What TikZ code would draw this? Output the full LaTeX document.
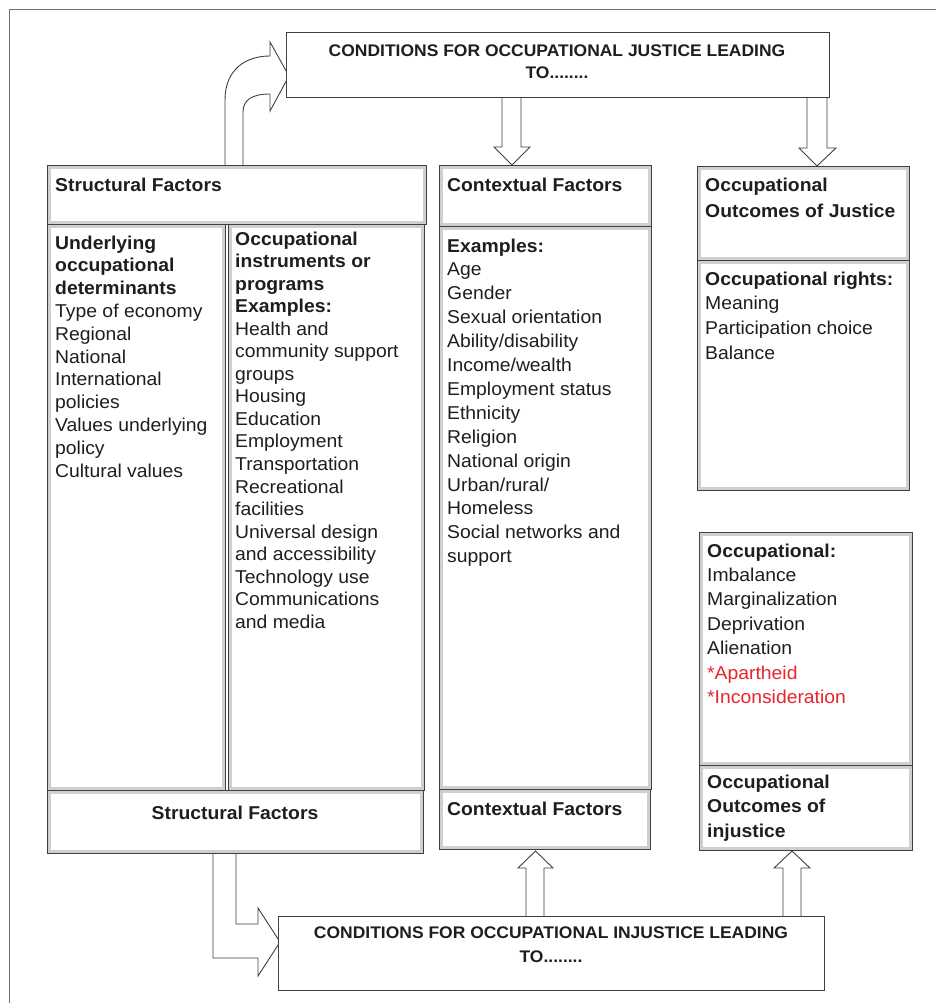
\documentclass[tikz,border=0pt]{standalone}
\usepackage{fontspec}
\setmainfont[FakeStretch=1.04]{Liberation Sans}
\definecolor{jred}{RGB}{232,36,44}
\definecolor{ink}{RGB}{30,30,30}
\newcommand\txtlines[5]{%
  \foreach \t [count=\i] in {#5}{\node[txt] (#1\i) at (#2,{#3+(\i-1)*#4}) {\t};}}
\begin{document}
\begin{tikzpicture}[x=1pt,y=-1pt,
  panel/.style={draw=black!75, line width=1.1pt, fill=white, inner sep=0pt, anchor=north west,
    path picture={\draw[gray!38, line width=3.2pt]
      ([shift={(2pt,-2.2pt)}]path picture bounding box.north west) rectangle
      ([shift={(-2pt,2.2pt)}]path picture bounding box.south east);}},
  plainbox/.style={draw=black!75, line width=1pt, fill=white, inner sep=0pt, anchor=north west},
  txt/.style={anchor=base west, inner sep=0pt, text=ink, font=\fontsize{18.6}{22}\selectfont},
  ttl/.style={anchor=base, inner sep=0pt, text=ink, font=\fontsize{16.8}{20}\selectfont\bfseries},
  blockarrow/.style={draw=black!75, line width=0.9pt, fill=white, line join=miter}
]
\useasboundingbox (0,0) rectangle (936,1003);
\fill[white] (0,0) rectangle (936,1003);
% outer frame
\draw[black!55, line width=0.8pt] (936,9) -- (9,9) -- (9,1003);

% block arrows
\draw[blockarrow] (225,165) -- (225,100) .. controls (225,70) and (245,56) .. (270,56)
  -- (270,42) -- (289,76) -- (270,111) -- (270,94)
  .. controls (252,94) and (243,100) .. (243,112) -- (243,165);
\draw[blockarrow] (502,97) -- (502,147) -- (494,147) -- (512,165) -- (530,147) -- (521,147) -- (521,97);
\draw[blockarrow] (807,97) -- (807,148) -- (799,148) -- (817,166) -- (836,148) -- (827,148) -- (827,97);
\draw[blockarrow] (213,853) -- (213,958) -- (258,958) -- (258,976) -- (280,942) -- (258,908) -- (258,924) -- (236,924) -- (236,853);
\draw[blockarrow] (526,916) -- (526,868) -- (518,868) -- (535.5,851) -- (553,868) -- (544,868) -- (544,916);
\draw[blockarrow] (783,916) -- (783,868) -- (774,868) -- (792,851) -- (810,868) -- (801,868) -- (801,916);

% title boxes
\node[plainbox, minimum width=543pt, minimum height=65pt] (ttop) at (286,32) {};
\node[plainbox, minimum width=546pt, minimum height=74pt] (tbot) at (278,916) {};
\node[ttl] (t1a) at (557,57) {CONDITIONS FOR OCCUPATIONAL JUSTICE LEADING};
\node[ttl] (t1b) at (557,79) {TO........};
\node[ttl] (t2a) at (551,938) {CONDITIONS FOR OCCUPATIONAL INJUSTICE LEADING};
\node[ttl] (t2b) at (551,962) {TO........};

% panels
\node[panel, minimum width=379pt, minimum height=59pt]  (stt) at (47,165) {};
\node[panel, minimum width=178pt, minimum height=566pt] (scl) at (47,224) {};
\node[panel, minimum width=196pt, minimum height=566pt] (scr) at (228,224) {};
\node[panel, minimum width=376pt, minimum height=63pt]  (stb) at (47,790) {};
\node[panel, minimum width=212pt, minimum height=61pt]  (ctt) at (439,165) {};
\node[panel, minimum width=212pt, minimum height=563pt] (ctm) at (439,226) {};
\node[panel, minimum width=211pt, minimum height=60pt]  (ctb) at (439,789) {};
\node[panel, minimum width=212pt, minimum height=94pt]  (jt)  at (697,166) {};
\node[panel, minimum width=212pt, minimum height=230pt] (jr)  at (697,260) {};
\node[panel, minimum width=213pt, minimum height=233pt] (it)  at (699,532) {};
\node[panel, minimum width=213pt, minimum height=85pt]  (ib)  at (699,765) {};

% texts
\node[txt] (h1) at (55,192) {\textbf{Structural Factors}};
\txtlines{sl}{55}{249}{22.8}{\textbf{Underlying},\textbf{occupational},\textbf{determinants},Type of economy,Regional,National,International,policies,Values underlying,policy,Cultural values}
\txtlines{sr}{235}{245}{22.55}{\textbf{Occupational},\textbf{instruments or},\textbf{programs},\textbf{Examples:},Health and,community support,groups,Housing,Education,Employment,Transportation,Recreational,facilities,Universal design,and accessibility,Technology use,Communications,and media}
\node[txt, anchor=base] (h3) at (235,819) {\textbf{Structural Factors}};

\node[txt] (h2) at (447,192) {\textbf{Contextual Factors}};
\txtlines{cm}{447}{252}{23.9}{\textbf{Examples:},Age,Gender,Sexual orientation,Ability/disability,Income/wealth,Employment status,Ethnicity,Religion,National origin,Urban/rural/,Homeless,Social networks and,support}
\node[txt] (h4) at (447,815) {\textbf{Contextual Factors}};

\txtlines{jh}{705}{192}{25}{\textbf{Occupational},\textbf{Outcomes of Justice}}
\txtlines{jl}{705}{285}{24.7}{\textbf{Occupational rights:},Meaning,Participation choice,Balance}
\txtlines{il}{707}{557}{24.4}{\textbf{Occupational:},Imbalance,Marginalization,Deprivation,Alienation,\textcolor{jred}{*Apartheid},\textcolor{jred}{*Inconsideration}}
\txtlines{ih}{707}{788}{24.5}{\textbf{Occupational},\textbf{Outcomes of},\textbf{injustice}}
\end{tikzpicture}
\end{document}
